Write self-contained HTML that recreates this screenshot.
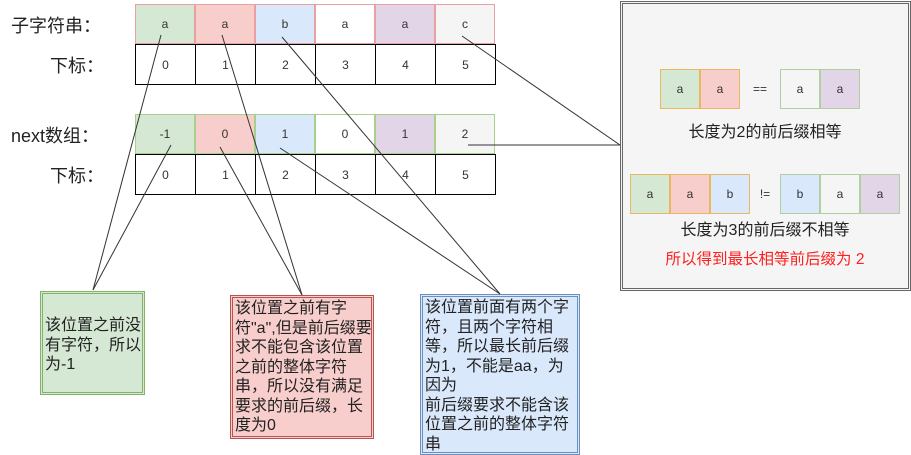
<!DOCTYPE html>
<html><head><meta charset="utf-8"><style>
body{margin:0;width:911px;height:455px;background:#fff;position:relative;overflow:hidden;font-family:"Liberation Sans","Noto Sans CJK SC",sans-serif;}
.c{position:absolute;box-sizing:border-box;display:flex;align-items:center;justify-content:center;font-size:12px;color:#333;}
.l{position:absolute;font-size:18px;color:#222;}
.t{position:absolute;font-size:16px;color:#222;line-height:19.5px;box-sizing:border-box;padding:1px 2px;white-space:nowrap;overflow:hidden;}
</style></head><body>
<div class="l" style="left:11px;top:12px">子字符串：</div>
<div class="l" style="left:50px;top:52px">下标：</div>
<div class="l" style="left:11px;top:122px">next数组：</div>
<div class="l" style="left:50px;top:162px">下标：</div>

<div class="c" style="left:135px;top:4px;width:60px;height:40px;background:#d5e8d4;border:1px solid #e8a0a0">a</div>
<div class="c" style="left:195px;top:4px;width:60px;height:40px;background:#f8cecc;border:1px solid #e8a0a0">a</div>
<div class="c" style="left:255px;top:4px;width:60px;height:40px;background:#dae8fc;border:1px solid #e8a0a0">b</div>
<div class="c" style="left:315px;top:4px;width:60px;height:40px;background:#fff;border:1px solid #e8a0a0">a</div>
<div class="c" style="left:375px;top:4px;width:60px;height:40px;background:#e1d5e7;border:1px solid #e8a0a0">a</div>
<div class="c" style="left:435px;top:4px;width:60px;height:40px;background:#f5f5f5;border:1px solid #e8a0a0">c</div>

<div class="c" style="left:135px;top:114px;width:60px;height:40px;background:#d5e8d4;border:1px solid #a8d08d">-1</div>
<div class="c" style="left:195px;top:114px;width:60px;height:40px;background:#f8cecc;border:1px solid #a8d08d">0</div>
<div class="c" style="left:255px;top:114px;width:60px;height:40px;background:#dae8fc;border:1px solid #a8d08d">1</div>
<div class="c" style="left:315px;top:114px;width:60px;height:40px;background:#fff;border:1px solid #a8d08d">0</div>
<div class="c" style="left:375px;top:114px;width:60px;height:40px;background:#e1d5e7;border:1px solid #a8d08d">1</div>
<div class="c" style="left:435px;top:114px;width:60px;height:40px;background:#f5f5f5;border:1px solid #a8d08d">2</div>

<div class="c" style="left:135px;top:44px;width:61px;height:41px;border:1px solid #000">0</div>
<div class="c" style="left:195px;top:44px;width:61px;height:41px;border:1px solid #000">1</div>
<div class="c" style="left:255px;top:44px;width:61px;height:41px;border:1px solid #000">2</div>
<div class="c" style="left:315px;top:44px;width:61px;height:41px;border:1px solid #000">3</div>
<div class="c" style="left:375px;top:44px;width:61px;height:41px;border:1px solid #000">4</div>
<div class="c" style="left:435px;top:44px;width:61px;height:41px;border:1px solid #000">5</div>
<div class="c" style="left:135px;top:154px;width:61px;height:41px;border:1px solid #000">0</div>
<div class="c" style="left:195px;top:154px;width:61px;height:41px;border:1px solid #000">1</div>
<div class="c" style="left:255px;top:154px;width:61px;height:41px;border:1px solid #000">2</div>
<div class="c" style="left:315px;top:154px;width:61px;height:41px;border:1px solid #000">3</div>
<div class="c" style="left:375px;top:154px;width:61px;height:41px;border:1px solid #000">4</div>
<div class="c" style="left:435px;top:154px;width:61px;height:41px;border:1px solid #000">5</div>

<!-- right panel -->
<div style="position:absolute;left:620px;top:1px;width:291px;height:290px;box-sizing:border-box;border:3px double #666;background:#f5f5f5"></div>
<div class="c" style="left:660px;top:69px;width:40px;height:40px;background:#d5e8d4;border:1px solid #e8b860">a</div>
<div class="c" style="left:700px;top:69px;width:40px;height:40px;background:#f8cecc;border:1px solid #e8b860">a</div>
<div class="c" style="left:745px;top:69px;width:30px;height:40px">==</div>
<div class="c" style="left:780px;top:69px;width:40px;height:40px;background:#f5f5f5;border:1px solid #b0d0a0">a</div>
<div class="c" style="left:820px;top:69px;width:40px;height:40px;background:#e1d5e7;border:1px solid #b0d0a0">a</div>
<div class="c" style="left:620px;top:119px;width:290px;height:22px;font-size:16px;color:#222">长度为2的前后缀相等</div>
<div class="c" style="left:630px;top:174px;width:40px;height:40px;background:#d5e8d4;border:1px solid #e8b860">a</div>
<div class="c" style="left:670px;top:174px;width:40px;height:40px;background:#f8cecc;border:1px solid #e8b860">a</div>
<div class="c" style="left:710px;top:174px;width:40px;height:40px;background:#dae8fc;border:1px solid #e8b860">b</div>
<div class="c" style="left:752px;top:174px;width:26px;height:40px">!=</div>
<div class="c" style="left:780px;top:174px;width:40px;height:40px;background:#dae8fc;border:1px solid #b0d0a0">b</div>
<div class="c" style="left:820px;top:174px;width:40px;height:40px;background:#f5f5f5;border:1px solid #b0d0a0">a</div>
<div class="c" style="left:860px;top:174px;width:40px;height:40px;background:#e1d5e7;border:1px solid #b0d0a0">a</div>
<div class="c" style="left:620px;top:217px;width:290px;height:22px;font-size:16px;color:#222">长度为3的前后缀不相等</div>
<div class="c" style="left:620px;top:247px;width:290px;height:22px;font-size:15.5px;color:#ff2020">所以得到最长相等前后缀为 2</div>

<!-- notes -->
<div class="t" style="left:40px;top:291px;width:105px;height:104px;background:#d5e8d4;border:3px double #82b366;padding-top:22px">该位置之前没<br>有字符，所以<br>为-1</div>
<div class="t" style="left:230px;top:295px;width:144px;height:144px;background:#f8cecc;border:3px double #b85450">该位置之前有字<br>符"a",但是前后缀要<br>求不能包含该位置<br>之前的整体字符<br>串，所以没有满足<br>要求的前后缀，长<br>度为0</div>
<div class="t" style="left:420px;top:294px;width:160px;height:161px;background:#dae8fc;border:3px double #6c8ebf">该位置前面有两个字<br>符，且两个字符相<br>等，所以最长前后缀<br>为1，不能是aa，为<br>因为<br>前后缀要求不能含该<br>位置之前的整体字符<br>串</div>

<svg width="911" height="455" style="position:absolute;left:0;top:0" fill="none" stroke="#333" stroke-width="1">
<line x1="161" y1="35" x2="93" y2="290"/>
<line x1="171" y1="145" x2="93" y2="290"/>
<line x1="222" y1="35" x2="302" y2="295"/>
<line x1="220" y1="147" x2="302" y2="295"/>
<line x1="282" y1="37" x2="500" y2="294"/>
<line x1="280" y1="148" x2="500" y2="294"/>
<line x1="462" y1="36" x2="620" y2="145"/>
<line x1="468" y1="145" x2="620" y2="145"/>
</svg>
</body></html>
